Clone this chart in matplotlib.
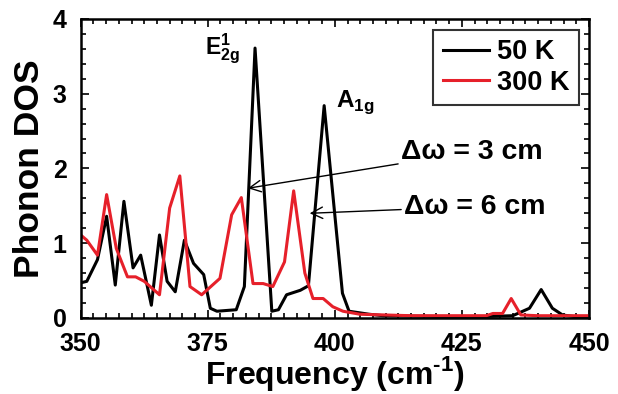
import matplotlib
matplotlib.use("Agg")
import matplotlib.pyplot as plt
from matplotlib.ticker import MultipleLocator

plt.rcParams['font.family'] = ['Liberation Sans', 'DejaVu Sans']
plt.rcParams['font.weight'] = 'bold'
plt.rcParams['mathtext.fontset'] = 'custom'
plt.rcParams['mathtext.rm'] = 'Liberation Sans:bold'
plt.rcParams['mathtext.bf'] = 'Liberation Sans:bold'

# 50 K curve
freq_50 = [350, 351.2, 353.3, 355.1, 356.8, 358.5, 360.3, 361.8, 363.9, 365.5,
           367.0, 368.6, 370.4, 372.2, 374.2, 375.5, 376.8, 380.6, 382.2, 384.3,
           387.6, 388.9, 390.5, 393.2, 394.8, 397.9, 401.5, 402.8, 406.7, 409.5,
           420, 430, 435.0, 438.3, 440.6, 442.8, 444.8, 447, 450]
dos_50 = [0.47, 0.49, 0.78, 1.36, 0.44, 1.56, 0.67, 0.84, 0.17, 1.11,
          0.49, 0.35, 1.04, 0.73, 0.58, 0.13, 0.09, 0.11, 0.42, 3.61,
          0.09, 0.11, 0.31, 0.37, 0.43, 2.84, 0.33, 0.09, 0.05, 0.03,
          0.02, 0.02, 0.03, 0.13, 0.38, 0.13, 0.04, 0.02, 0.02]

# 300 K curve
freq_300 = [350, 351.2, 353.3, 355.1, 357.0, 359.2, 360.8, 362.5, 365.5, 367.5,
            369.5, 371.5, 373.8, 377.4, 379.7, 381.6, 383.9, 385.9, 387.8, 390.1,
            391.9, 394.1, 395.7, 397.7, 399.6, 401.6, 404.9, 415, 429.8, 431.1,
            433.0, 434.7, 436.6, 440, 450]
dos_300 = [1.11, 1.04, 0.84, 1.65, 0.93, 0.55, 0.55, 0.49, 0.31, 1.47,
           1.90, 0.42, 0.31, 0.53, 1.38, 1.61, 0.46, 0.46, 0.42, 0.75,
           1.70, 0.60, 0.26, 0.26, 0.15, 0.09, 0.05, 0.03, 0.03, 0.06,
           0.06, 0.26, 0.04, 0.03, 0.03]

fig = plt.figure(figsize=(6.18, 3.94), dpi=100)
ax = fig.add_axes([0.1306, 0.193, 0.8224, 0.759])

ax.plot(freq_50, dos_50, color='black', lw=2.2, label='50 K')
ax.plot(freq_300, dos_300, color='#e6202a', lw=2.2, label='300 K')

ax.set_xlim(350, 450)
ax.set_ylim(0, 4)
ax.xaxis.set_major_locator(MultipleLocator(25))
ax.xaxis.set_minor_locator(MultipleLocator(2.5))
ax.yaxis.set_major_locator(MultipleLocator(1))
ax.yaxis.set_minor_locator(MultipleLocator(0.2))
ax.tick_params(which='both', direction='in', top=True, right=True, width=1.2)
ax.tick_params(which='major', length=6, labelsize=18)
ax.tick_params(axis='x', which='major', pad=10)
ax.tick_params(axis='y', which='major', pad=10)
ax.tick_params(which='minor', length=3.5)
for s in ax.spines.values():
    s.set_linewidth(1.8)

ax.set_xlabel('Frequency (cm$^{\\mathbf{\u2010}\\mathbf{1}}$)', fontsize=23, fontweight='bold', labelpad=-1)
ax.set_ylabel('Phonon DOS', fontsize=25.5, fontweight='bold', labelpad=5)

leg = ax.legend(loc='upper right', fontsize=19.5, frameon=True, fancybox=False,
                edgecolor='black', handlelength=1.7, borderpad=0.35,
                labelspacing=0.15, handletextpad=0.3, borderaxespad=0,
                bbox_to_anchor=(0.980, 0.963))
leg.get_frame().set_linewidth(1.5)
for t in leg.get_texts():
    t.set_fontweight('bold')

ax.text(374.4, 3.52, r'$\mathbf{E}^{\mathbf{1}}_{\mathbf{2g}}$', fontsize=16.5, ha='left', va='baseline')
ax.text(400.3, 2.83, r'$\mathbf{A}_{\mathbf{1g}}$', fontsize=17.5, ha='left', va='baseline')

ax.annotate('Δω = 3 cm', xy=(382.9, 1.735), xytext=(413.0, 2.22), fontsize=20.5,
            fontweight='bold', va='center', ha='left',
            arrowprops=dict(arrowstyle='->', color='black', lw=1.0, shrinkA=0, shrinkB=0))
ax.annotate('Δω = 6 cm', xy=(395.05, 1.40), xytext=(413.6, 1.49), fontsize=20.5,
            fontweight='bold', va='center', ha='left',
            arrowprops=dict(arrowstyle='->', color='black', lw=1.0, shrinkA=0, shrinkB=0))

fig.savefig('out.png', dpi=100)
